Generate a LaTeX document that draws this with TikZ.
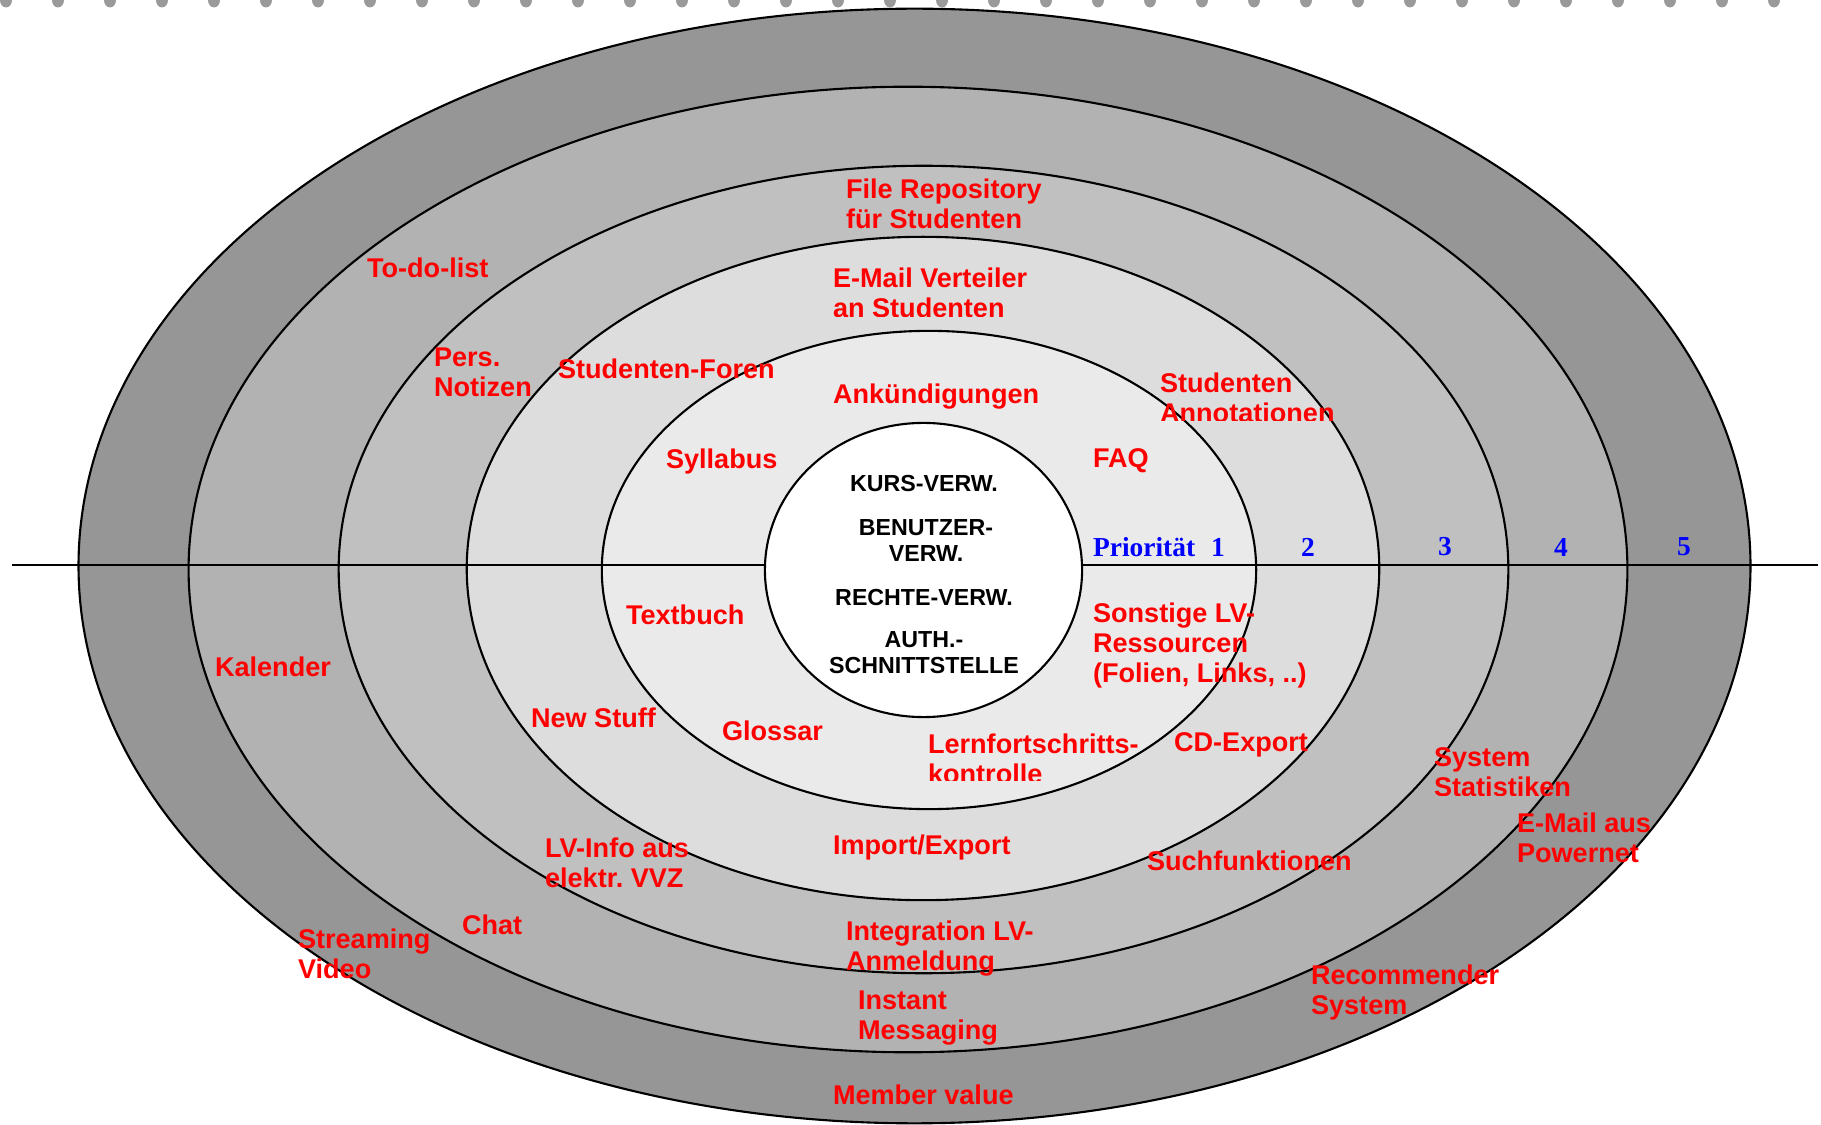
\documentclass[tikz,border=0pt]{standalone}
\usepackage{fontspec}
\setmainfont{Liberation Sans}
\newfontfamily\prioface{Liberation Serif}
\usetikzlibrary{positioning}
\definecolor{dotgray}{HTML}{9A9A9A}
\definecolor{ringfive}{HTML}{969696}
\definecolor{ringfour}{HTML}{B2B2B2}
\definecolor{ringthree}{HTML}{C0C0C0}
\definecolor{ringtwo}{HTML}{DDDDDD}
\definecolor{ringone}{HTML}{EAEAEA}
\tikzset{every picture/.style={line width=0.6pt}}
\tikzstyle{lbl}=[text=red,font=\fontsize{7.7}{8.5}\selectfont\bfseries,align=left,anchor=west,inner sep=0pt,yshift=-0.9pt]
\tikzstyle{core}=[text=black,font=\fontsize{6.6}{7.4}\selectfont\bfseries,align=center,inner sep=0pt]
\tikzstyle{prio}=[text=blue,font=\fontsize{7.8}{8.5}\prioface\bfseries,inner sep=0pt]

\begin{document}
\begin{tikzpicture}[x=0.01cm,y=-0.01cm]
\useasboundingbox (0,0) rectangle (1821,1125);
% dots along the top edge
\foreach \x in {6,58,...,1800}
  \fill[dotgray] (\x,0) ellipse [x radius=0.06cm, y radius=0.075cm];
% rings, outside in
\filldraw[fill=ringfive] (914.5,566) ellipse [x radius=8.355cm, y radius=5.57cm];
\filldraw[fill=ringfour] (908,569.5) ellipse [x radius=7.19cm, y radius=4.825cm];
\filldraw[fill=ringthree] (923.5,569.5) ellipse [x radius=5.845cm, y radius=4.035cm];
\filldraw[fill=ringtwo] (923,568.5) ellipse [x radius=4.56cm, y radius=3.315cm];
\filldraw[fill=ringone] (929,570) ellipse [x radius=3.27cm, y radius=2.39cm];
\coordinate (L) at (12,565);
\coordinate (R) at (1818,565);
\draw[line width=0.8pt] (L) -- (R);
\filldraw[fill=white] (923.5,570) ellipse [x radius=1.585cm, y radius=1.47cm];

% core
\node[core] (KV) at (924,484) {KURS-VERW.};
\node[core] (BV) at (926,541) {BENUTZER-\\VERW.};
\node[core] (RV) at (924,598) {RECHTE-VERW.};
\node[core] (AS) at (924,653) {AUTH.-\\SCHNITTSTELLE};

% priorities
\node[prio,anchor=west] (P) at (1092,547) {Priorität};
\foreach \n/\x in {1/1218,2/1308,3/1445,4/1561,5/1684}
  \node[prio] (P\n) at (\x,547) {\n};

% features
\node[lbl] (FR) at (845,201) {File Repository\\für Studenten};
\begin{scope}
\clip (800,250) rectangle (1100,317);
\node[lbl] (EV) at (832,290) {E-Mail Verteiler\\an Studenten};
\end{scope}
\node[lbl] (TD) at (366,265) {To-do-list};
\node[lbl] (PN) at (433,369) {Pers.\\Notizen};
\node[lbl] (SF) at (557,366) {Studenten-Foren};
\node[lbl] (AK) at (832,393) {Ankündigungen};
\begin{scope}
\clip (1140,350) rectangle (1380,421);
\node[lbl] (SA) at (1159,395) {Studenten\\Annotationen};
\end{scope}
\node[lbl] (SY) at (665,458) {Syllabus};
\node[lbl] (FQ) at (1092,458) {FAQ};
\node[lbl] (TB) at (625,612) {Textbuch};
\node[lbl] (SL) at (1092,642) {Sonstige LV-\\Ressourcen\\(Folien, Links, ..)};
\node[lbl] (KA) at (214,664) {Kalender};
\node[lbl] (NS) at (530,715) {New Stuff};
\node[lbl] (GL) at (721,728) {Glossar};
\begin{scope}
\clip (900,720) rectangle (1160,781);
\node[lbl] (LK) at (927,756) {Lernfortschritts-\\kontrolle};
\end{scope}
\node[lbl] (CD) at (1173,742) {CD-Export};
\begin{scope}
\clip (1420,730) rectangle (1600,796);
\node[lbl] (SS) at (1433,769) {System\\Statistiken};
\end{scope}
\node[lbl] (EP) at (1516,835) {E-Mail aus\\Powernet};
\node[lbl] (LV) at (544,860) {LV-Info aus\\elektr.\ VVZ};
\node[lbl] (IE) at (832,844) {Import/Export};
\node[lbl] (SU) at (1146,858) {Suchfunktionen};
\node[lbl] (CH) at (461,922) {Chat};
\node[lbl] (SV) at (297,951) {Streaming\\Video};
\node[lbl] (IL) at (845,945) {Integration LV-\\Anmeldung};
\node[lbl] (RS) at (1310,989) {Recommender\\System};
\node[lbl] (IM) at (857,1015) {Instant\\Messaging};
\node[lbl] (MV) at (832,1092) {Member value};
\end{tikzpicture}
\end{document}
